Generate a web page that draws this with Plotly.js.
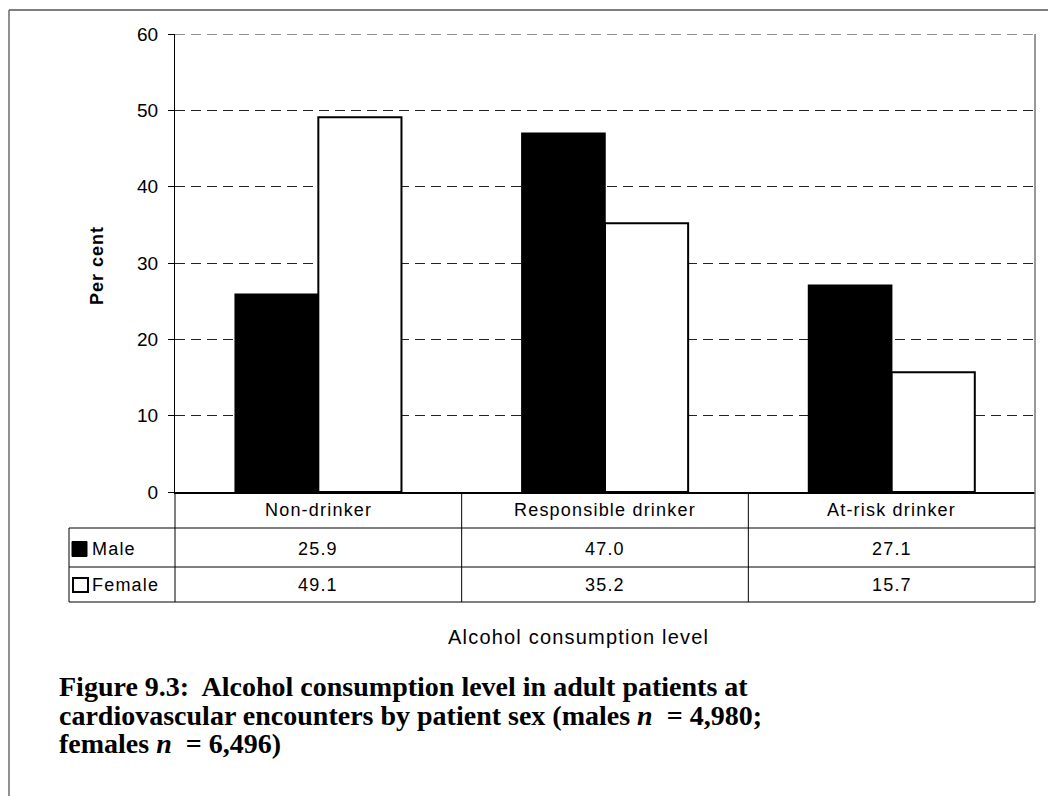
<!DOCTYPE html>
<html>
<head>
<meta charset="utf-8">
<script src="https://cdn.plot.ly/plotly-3.0.1.min.js"></script>
<style>
  html, body { margin: 0; padding: 0; background: #fff; }
  #chart { width: 1048px; height: 796px; }
</style>
</head>
<body>
<div id="chart"></div>
<script>
// Alcohol consumption level by patient sex (per cent)
const categories = ['Non-drinker', 'Responsible drinker', 'At-risk drinker'];
const seriesNames = ['Male', 'Female'];
const maleValues = [25.9, 47.0, 27.1];
const femaleValues = [49.1, 35.2, 15.7];
const yTicks = [0, 10, 20, 30, 40, 50, 60];
const xTitle = 'Alcohol consumption level';
const yTitle = 'Per cent';
const captionLines = [
  'Figure 9.3:&nbsp; Alcohol consumption level in adult patients at',
  'cardiovascular encounters by patient sex (males <i>n</i> &nbsp;= 4,980;',
  'females <i>n</i> &nbsp;= 6,496)'
];

const W = 1048, H = 796;
const M = { l: 175, r: 13, t: 34, b: 304 };
const plotW = W - M.l - M.r, plotH = H - M.t - M.b;
// pixel -> paper helpers
const px = x => (x - M.l) / plotW;
const py = y => (H - M.b - y) / plotH;

const sans = 'Liberation Sans, Arial, sans-serif';
const serif = 'Liberation Serif, Times New Roman, serif';
// slightly tracked sans text
const spaced = (t, ls) => '<span style="letter-spacing:' + ls + 'px">' + t + '</span>';

const traces = [
  {
    type: 'bar', name: seriesNames[0], x: categories, y: maleValues,
    marker: { color: '#000', line: { color: '#000', width: 1.5 } },
    hoverinfo: 'none'
  },
  {
    type: 'bar', name: seriesNames[1], x: categories, y: femaleValues,
    marker: { color: '#fff', line: { color: '#000', width: 2 } },
    hoverinfo: 'none'
  }
];

// table geometry (pixels)
const rowRules = [528, 567, 602];
const rowCenters = [549, 585];
const headerCenter = 510;
const legendLeft = 69;

const shapes = [];
// outer frame
shapes.push({ type: 'line', xref: 'paper', yref: 'paper', x0: px(9), x1: px(W + 5), y0: py(10), y1: py(10), line: { color: '#555', width: 1.3 } });
shapes.push({ type: 'line', xref: 'paper', yref: 'paper', x0: px(9), x1: px(9), y0: py(10), y1: py(H + 5), line: { color: '#555', width: 1.3 } });
// top grid line at the range maximum
shapes.push({ type: 'line', xref: 'paper', yref: 'y', x0: 0, x1: 1, y0: yTicks[yTicks.length - 1], y1: yTicks[yTicks.length - 1], line: { color: '#222', width: 1, dash: '10px,6px' } });
// right edge of plot area + table
shapes.push({ type: 'line', xref: 'paper', yref: 'paper', x0: 1, x1: 1, y0: 1, y1: py(rowRules[2]), line: { color: '#777', width: 1.5 } });
// left edge of table body (continuation of the value axis)
shapes.push({ type: 'line', xref: 'paper', yref: 'paper', x0: 0, x1: 0, y0: 0, y1: py(rowRules[2]), line: { color: '#000', width: 1 } });
// legend column left edge
shapes.push({ type: 'line', xref: 'paper', yref: 'paper', x0: px(legendLeft), x1: px(legendLeft), y0: py(rowRules[0]), y1: py(rowRules[2]), line: { color: '#000', width: 1 } });
// horizontal rules
rowRules.forEach(r => {
  shapes.push({ type: 'line', xref: 'paper', yref: 'paper', x0: px(legendLeft), x1: 1, y0: py(r), y1: py(r), line: { color: '#000', width: 1 } });
});
// category dividers
for (let i = 1; i < categories.length; i++) {
  shapes.push({ type: 'line', xref: 'x', yref: 'paper', x0: i - 0.5, x1: i - 0.5, y0: 0, y1: py(rowRules[2]), line: { color: '#000', width: 1 } });
}
// legend keys
shapes.push({ type: 'rect', xref: 'paper', yref: 'paper', x0: px(72), x1: px(87), y0: py(rowCenters[0] - 7.5), y1: py(rowCenters[0] + 7.5), fillcolor: '#000', line: { color: '#000', width: 1 } });
shapes.push({ type: 'rect', xref: 'paper', yref: 'paper', x0: px(73), x1: px(88), y0: py(rowCenters[1] - 7), y1: py(rowCenters[1] + 7), fillcolor: '#fff', line: { color: '#000', width: 2 } });

const tableFont = { family: sans, size: 18, color: '#000' };
const annotations = [];
categories.forEach((c, i) => {
  annotations.push({ xref: 'x', yref: 'paper', x: c, y: py(headerCenter), text: spaced(c, 1.2), showarrow: false, font: tableFont, xanchor: 'center', yanchor: 'middle' });
  annotations.push({ xref: 'x', yref: 'paper', x: c, y: py(rowCenters[0]), text: spaced(maleValues[i].toFixed(1), 1.2), showarrow: false, font: tableFont, xanchor: 'center', yanchor: 'middle' });
  annotations.push({ xref: 'x', yref: 'paper', x: c, y: py(rowCenters[1]), text: spaced(femaleValues[i].toFixed(1), 1.2), showarrow: false, font: tableFont, xanchor: 'center', yanchor: 'middle' });
});
annotations.push({ xref: 'paper', yref: 'paper', x: px(90), y: py(rowCenters[0]), text: spaced(seriesNames[0], 1.2), showarrow: false, font: tableFont, xanchor: 'left', yanchor: 'middle' });
annotations.push({ xref: 'paper', yref: 'paper', x: px(90), y: py(rowCenters[1]), text: spaced(seriesNames[1], 1.2), showarrow: false, font: tableFont, xanchor: 'left', yanchor: 'middle' });
// category axis title beneath the table
annotations.push({ xref: 'paper', yref: 'paper', x: px(578), y: py(637), text: spaced(xTitle, 1.2), showarrow: false, font: { family: sans, size: 20, color: '#000' }, xanchor: 'center', yanchor: 'middle' });
// value axis title
annotations.push({ xref: 'paper', yref: 'paper', x: px(97), y: py(266), text: '<b>' + spaced(yTitle, 1) + '</b>', textangle: -90, showarrow: false, font: { family: sans, size: 18, color: '#000' }, xanchor: 'center', yanchor: 'middle' });
// figure caption, one line per annotation for tight leading
const captionBaselines = [695, 723.5, 752];
captionLines.forEach((ln, i) => {
  annotations.push({
    xref: 'paper', yref: 'paper', x: px(57), y: py(captionBaselines[i] - 8.5),
    text: '<b>' + ln + '</b>',
    showarrow: false, align: 'left', xanchor: 'left', yanchor: 'middle',
    font: { family: serif, size: 28, color: '#000' }
  });
});

const layout = {
  width: W, height: H,
  margin: M,
  paper_bgcolor: '#fff', plot_bgcolor: '#fff',
  showlegend: false,
  barmode: 'group', bargap: 0.42, bargroupgap: 0,
  xaxis: {
    type: 'category', showticklabels: false, ticks: '',
    showgrid: false, zeroline: false,
    showline: true, linecolor: '#000', linewidth: 1.5,
    range: [-0.5, categories.length - 0.5]
  },
  yaxis: {
    range: [0, 60], tickvals: yTicks, ticktext: yTicks.map(String),
    ticks: 'outside', ticklen: 6, tickcolor: '#000', tickwidth: 1,
    ticklabelstandoff: 6,
    showline: true, linecolor: '#000', linewidth: 1,
    showgrid: true, gridcolor: '#222', gridwidth: 1, griddash: '10px,6px',
    zeroline: false,
    tickfont: { family: sans, size: 19, color: '#000' }
  },
  shapes: shapes,
  annotations: annotations
};

Plotly.newPlot('chart', traces, layout, { staticPlot: true, displayModeBar: false });
</script>
</body>
</html>
